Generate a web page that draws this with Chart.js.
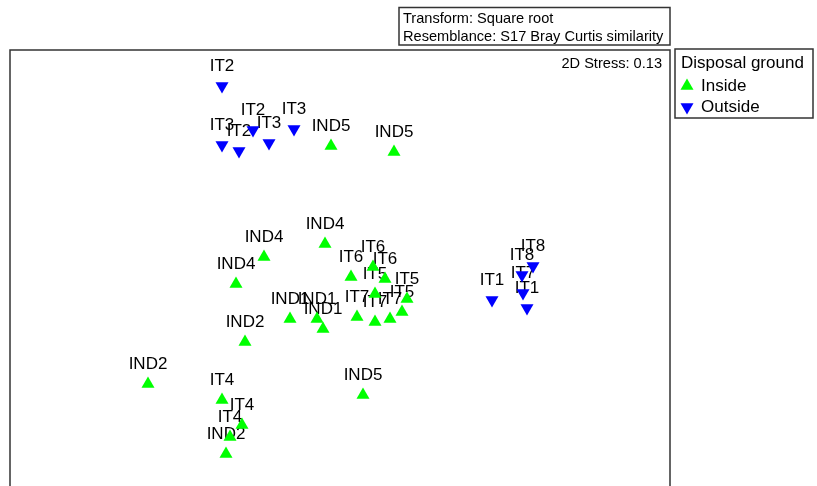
<!DOCTYPE html>
<html>
<head>
<meta charset="utf-8">
<script src="https://cdn.jsdelivr.net/npm/chart.js@4"></script>
<style>
  html, body { margin: 0; padding: 0; background: #fff; }
  #wrap { position: relative; width: 817px; height: 486px; }
</style>
</head>
<body>
<div id="wrap"><canvas id="mdsChart" width="817" height="486"></canvas></div>
<script>
// nMDS ordination coordinates
const insideLabels = ['IND5', 'IND5', 'IND4', 'IND4', 'IND4', 'IND2', 'IND2', 'IT4', 'IT4', 'IT4', 'IND2', 'IND5',
  'IND1', 'IND1', 'IND1', 'IT6', 'IT6', 'IT6', 'IT5', 'IT5', 'IT5', 'IT7', 'IT7', 'IT7'];
const insideX = [-0.045, 0.27, -0.075, -0.38, -0.52, -0.475, -0.96, -0.59, -0.49, -0.55, -0.57, 0.115,
  -0.25, -0.115, -0.085, 0.055, 0.165, 0.225, 0.175, 0.335, 0.31, 0.085, 0.175, 0.25];
const insideY = [0.61, 0.58, 0.12, 0.055, -0.08, -0.37, -0.58, -0.66, -0.785, -0.845, -0.93, -0.635,
  -0.255, -0.255, -0.305, -0.045, 0.005, -0.055, -0.13, -0.155, -0.22, -0.245, -0.27, -0.255];

const outsideLabels = ['IT2', 'IT2', 'IT3', 'IT2', 'IT3', 'IT3', 'IT1', 'IT8', 'IT8', 'IT7', 'IT1'];
const outsideX = [-0.59, -0.435, -0.59, -0.505, -0.355, -0.23, 0.76, 0.965, 0.91, 0.915, 0.935];
const outsideY = [0.91, 0.69, 0.615, 0.585, 0.625, 0.695, -0.16, 0.01, -0.035, -0.125, -0.2];

const groupNames = ['Inside', 'Outside'];
const stressText = '2D Stress: 0.13';
const infoLines = ['Transform: Square root', 'Resemblance: S17 Bray Curtis similarity'];
const legendTitle = 'Disposal ground';

const GREEN = '#00ff00';
const BLUE = '#0000ff';
const LINE = '#333333';
const FONT = '"Liberation Sans", Arial, sans-serif';

function toPoints(xs, ys) {
    return xs.map((x, i) => ({ x: x, y: ys[i] }));
}

function triangle(ctx, x, y, r, down, color) {
    const s = down ? -1 : 1;
    ctx.beginPath();
    ctx.moveTo(x, y - s * r);
    ctx.lineTo(x + r * 0.866, y + s * r / 2);
    ctx.lineTo(x - r * 0.866, y + s * r / 2);
    ctx.closePath();
    ctx.fillStyle = color;
    ctx.fill();
}

// Point labels go under the markers, the boxes and texts on top
const decorations = {
    id: 'decorations',
    beforeDatasetsDraw(chart) {
        const ctx = chart.ctx;
        ctx.save();
        ctx.font = '17px ' + FONT;
        ctx.fillStyle = '#000';
        ctx.textAlign = 'center';
        ctx.textBaseline = 'alphabetic';
        chart.data.datasets.forEach((ds, i) => {
            chart.getDatasetMeta(i).data.forEach((el, j) => {
                ctx.fillText(ds.pointLabels[j], el.x, el.y - 15);
            });
        });
        ctx.restore();
    },
    afterDraw(chart) {
        const ctx = chart.ctx;
        const a = chart.chartArea;
        ctx.save();
        ctx.strokeStyle = LINE;
        ctx.lineWidth = 1.5;

        // plot frame (bottom edge runs off the page)
        ctx.beginPath();
        ctx.moveTo(a.left, a.bottom + 5);
        ctx.lineTo(a.left, a.top);
        ctx.lineTo(a.right, a.top);
        ctx.lineTo(a.right, a.bottom + 5);
        ctx.stroke();

        // transform / resemblance box
        ctx.strokeRect(399, 7.5, a.right - 399, 37.5);
        ctx.font = '14.6px ' + FONT;
        ctx.fillStyle = '#000';
        ctx.textBaseline = 'middle';
        ctx.textAlign = 'left';
        ctx.fillText(infoLines[0], 403, 18.5);
        ctx.fillText(infoLines[1], 403, 36.5);

        // stress value
        ctx.textAlign = 'right';
        ctx.fillText(stressText, a.right - 8, 64);

        // legend
        ctx.strokeRect(675, 49, 138, 69);
        ctx.textAlign = 'left';
        ctx.font = '17px ' + FONT;
        ctx.fillText(legendTitle, 681, 63);
        triangle(ctx, 687, 86, 7.5, false, GREEN);
        ctx.fillStyle = '#000';
        ctx.fillText(groupNames[0], 701, 86);
        triangle(ctx, 687, 107, 7.5, true, BLUE);
        ctx.fillStyle = '#000';
        ctx.fillText(groupNames[1], 701, 107);
        ctx.restore();
    }
};

const ctx = document.getElementById('mdsChart').getContext('2d');
const mdsChart = new Chart(ctx, {
    type: 'scatter',
    data: {
        datasets: [
            {
                label: groupNames[0],
                data: toPoints(insideX, insideY),
                pointLabels: insideLabels,
                pointStyle: 'triangle',
                pointRadius: 7.5,
                backgroundColor: GREEN,
                borderColor: GREEN,
                borderWidth: 0
            },
            {
                label: groupNames[1],
                data: toPoints(outsideX, outsideY),
                pointLabels: outsideLabels,
                pointStyle: 'triangle',
                rotation: 180,
                pointRadius: 7.5,
                backgroundColor: BLUE,
                borderColor: BLUE,
                borderWidth: 0
            }
        ]
    },
    options: {
        responsive: false,
        animation: false,
        devicePixelRatio: 1,
        layout: { autoPadding: false, padding: { left: 10, top: 50, right: 147, bottom: 0 } },
        scales: {
            x: { type: 'linear', min: -1.65, max: 1.65, display: false },
            y: { type: 'linear', min: -1.09, max: 1.09, display: false }
        },
        plugins: {
            legend: { display: false },
            tooltip: { enabled: false }
        }
    },
    plugins: [decorations]
});
</script>
</body>
</html>
